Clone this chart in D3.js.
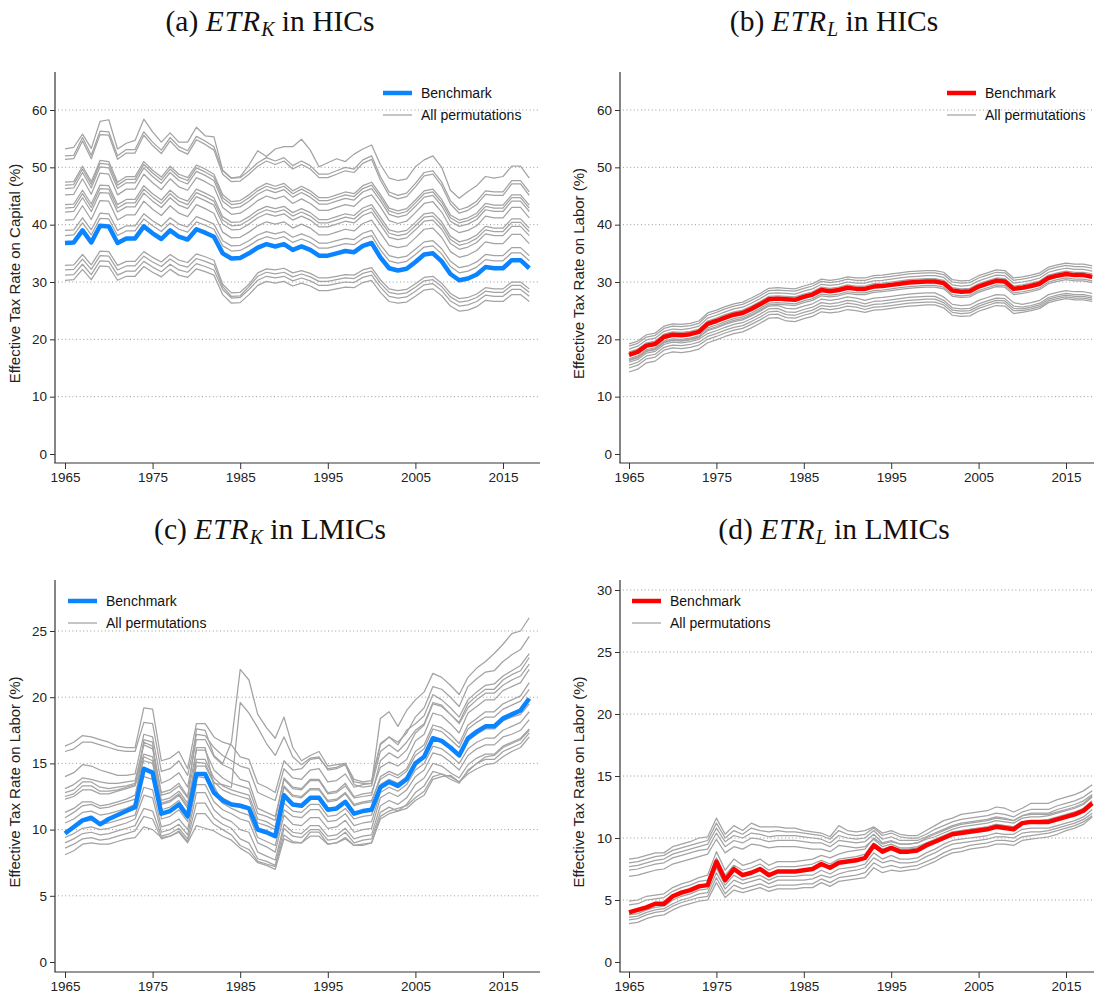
<!DOCTYPE html>
<html>
<head>
<meta charset="utf-8">
<script src="https://cdn.jsdelivr.net/npm/d3@7"></script>
<style>
  body { margin: 0; background: #fff; }
  svg { display: block; }
</style>
</head>
<body>
<svg id="chart" width="1094" height="998"></svg>
<script>
// Years covered by every series
const years = d3.range(1965, 2019);

// Tick values
const xTicks = [1965, 1975, 1985, 1995, 2005, 2015];
const yTicksHic = [0, 10, 20, 30, 40, 50, 60];
const yTicksLmicCapital = [0, 5, 10, 15, 20, 25];
const yTicksLmicLabor = [0, 5, 10, 15, 20, 25, 30];

// (a) Effective tax rate on capital, high-income countries
const benchHicCapital = [36.8,36.9,39.0,36.9,39.8,39.7,36.8,37.6,37.6, 39.7,38.5,37.5,39.0,37.9,37.4,39.2,38.6,37.9, 35.0,34.1,34.2,35.0,36.0,36.6,36.2,36.6,35.6, 36.2,35.6,34.6,34.6,35.0,35.4,35.2,36.3,36.8, 34.3,32.4,32.0,32.3,33.5,34.8,35.0,33.6,31.4, 30.3,30.6,31.3,32.6,32.4,32.4,33.8,33.8,32.4];
const permHicCapital = [
  [53.2,53.5,55.8,53.3,58.0,58.3,53.2,54.2,54.7, 58.4,56.2,54.4,56.0,54.4,54.4,57.0,55.5,55.3, 49.5,48.1,48.4,50.4,52.9,51.9,53.2,53.6,53.6, 54.9,53.0,50.1,50.8,51.5,51.0,52.3,53.2,53.9, 50.5,48.1,47.7,48.0,50.1,51.3,52.0,50.0,46.0, 44.6,45.8,46.8,48.4,48.1,48.4,50.2,50.2,48.1],
  [52.0,52.1,55.2,52.1,56.3,56.2,52.0,53.1,53.1, 56.2,54.4,53.0,55.2,53.6,52.9,55.4,54.6,53.6, 49.4,48.1,48.2,49.4,50.8,51.7,51.1,51.7,50.3, 51.1,50.3,48.8,48.8,49.4,50.0,49.7,51.3,52.0, 48.4,45.7,45.1,45.5,47.2,49.1,49.4,47.4,44.2, 42.6,43.1,44.1,45.9,45.7,45.7,47.7,47.7,45.7],
  [51.4,51.5,54.6,51.5,55.7,55.6,51.4,52.5,52.5, 55.6,53.8,52.4,54.6,53.0,52.3,54.8,54.0,53.0, 48.8,47.5,47.6,48.8,50.2,51.1,50.5,51.1,49.7, 50.5,49.7,48.2,48.2,48.8,49.4,49.1,50.7,51.4, 47.8,45.1,44.5,44.9,46.6,48.5,48.8,46.8,43.6, 42.0,42.5,43.5,45.3,45.1,45.1,47.1,47.1,45.1],
  [47.4,47.5,50.2,47.5,51.2,51.0,47.4,48.4,48.4, 51.0,49.5,48.3,50.2,48.8,48.2,50.4,49.7,48.8, 45.2,44.0,44.2,45.2,46.4,47.2,46.7,47.2,45.9, 46.7,45.9,44.7,44.7,45.2,45.7,45.4,46.8,47.4, 45.3,42.9,42.4,42.8,44.3,45.9,46.2,44.4,41.7, 40.8,41.2,42.0,43.7,43.4,43.4,45.2,45.2,43.4],
  [46.9,47.0,49.7,47.0,50.7,50.5,46.9,47.9,47.9, 50.5,49.0,47.8,49.7,48.3,47.7,49.9,49.2,48.3, 44.7,43.5,43.7,44.7,45.9,46.7,46.2,46.7,45.4, 46.2,45.4,44.2,44.2,44.7,45.2,44.9,46.3,46.9, 44.8,42.4,41.9,42.3,43.8,45.4,45.7,43.9,41.2, 40.3,40.7,41.5,43.2,42.9,42.9,44.7,44.7,42.9],
  [46.3,46.4,49.1,46.4,50.1,49.9,46.3,47.3,47.3, 49.9,48.4,47.2,49.1,47.7,47.1,49.3,48.6,47.7, 44.1,42.9,43.1,44.1,45.3,46.1,45.6,46.1,44.8, 45.6,44.8,43.6,43.6,44.1,44.6,44.3,45.7,46.3, 44.2,41.8,41.3,41.7,43.2,44.8,45.1,43.3,40.6, 39.7,40.1,40.9,42.6,42.3,42.3,44.1,44.1,42.3],
  [45.2,45.3,48.0,45.3,49.0,48.8,45.2,46.2,46.2, 48.8,47.3,46.1,48.0,46.6,46.0,48.2,47.5,46.6, 43.0,41.8,42.0,43.0,44.2,45.0,44.5,45.0,43.7, 44.5,43.7,42.5,42.5,43.0,43.5,43.2,44.6,45.2, 43.1,40.7,40.2,40.6,42.1,43.7,44.0,42.2,39.5, 38.6,39.0,39.8,41.5,41.2,41.2,43.0,43.0,41.2],
  [43.5,43.6,46.0,43.6,46.9,46.8,43.5,44.4,44.4, 46.8,45.4,44.3,46.0,44.7,44.1,46.2,45.5,44.7, 41.4,40.4,40.5,41.4,42.5,43.2,42.8,43.2,42.1, 42.8,42.1,40.9,40.9,41.4,41.9,41.6,42.9,43.5, 41.3,39.1,38.7,39.0,40.4,41.9,42.1,40.5,38.0, 37.0,37.4,38.2,39.7,39.4,39.4,41.0,41.0,39.4],
  [42.9,43.0,45.4,43.0,46.3,46.2,42.9,43.8,43.8, 46.2,44.8,43.7,45.4,44.1,43.5,45.6,44.9,44.1, 40.8,39.8,39.9,40.8,41.9,42.6,42.2,42.6,41.5, 42.2,41.5,40.3,40.3,40.8,41.3,41.0,42.3,42.9, 40.7,38.5,38.1,38.4,39.8,41.3,41.5,39.9,37.4, 36.4,36.8,37.6,39.1,38.8,38.8,40.4,40.4,38.8],
  [42.2,42.3,44.7,42.3,45.6,45.5,42.2,43.1,43.1, 45.5,44.1,43.0,44.7,43.4,42.8,44.9,44.2,43.4, 40.1,39.1,39.2,40.1,41.2,41.9,41.5,41.9,40.8, 41.5,40.8,39.6,39.6,40.1,40.6,40.3,41.6,42.2, 40.0,37.8,37.4,37.7,39.1,40.6,40.8,39.2,36.7, 35.7,36.1,36.9,38.4,38.1,38.1,39.7,39.7,38.1],
  [40.8,40.9,43.3,40.9,44.2,44.1,40.8,41.7,41.7, 44.1,42.7,41.6,43.3,42.0,41.4,43.5,42.8,42.0, 38.7,37.7,37.8,38.7,39.8,40.5,40.1,40.5,39.4, 40.1,39.4,38.2,38.2,38.7,39.2,38.9,40.2,40.8, 38.6,36.4,36.0,36.3,37.7,39.2,39.4,37.8,35.3, 34.3,34.7,35.5,37.0,36.7,36.7,38.3,38.3,36.7],
  [39.0,39.1,41.2,39.1,42.0,41.9,39.0,39.8,39.8, 41.9,40.7,39.7,41.2,40.1,39.6,41.4,40.8,40.1, 37.2,36.3,36.4,37.2,38.2,38.8,38.4,38.8,37.8, 38.4,37.8,36.8,36.8,37.2,37.6,37.4,38.5,39.0, 36.5,34.6,34.2,34.5,35.7,37.0,37.2,35.8,33.6, 32.5,32.8,33.5,34.8,34.6,34.6,36.0,36.0,34.6],
  [38.1,38.2,40.3,38.2,41.1,41.0,38.1,38.9,38.9, 41.0,39.8,38.8,40.3,39.2,38.7,40.5,39.9,39.2, 36.3,35.4,35.5,36.3,37.3,37.9,37.5,37.9,36.9, 37.5,36.9,35.9,35.9,36.3,36.7,36.5,37.6,38.1, 35.6,33.7,33.3,33.6,34.8,36.1,36.3,34.9,32.7, 31.6,31.9,32.6,33.9,33.7,33.7,35.1,35.1,33.7],
  [32.9,33.0,34.8,33.0,35.4,35.3,32.9,33.6,33.6, 35.3,34.3,33.5,34.8,33.8,33.4,34.9,34.4,33.8, 29.6,28.1,28.2,29.6,31.6,32.3,32.1,32.4,31.6, 32.0,31.5,30.7,30.7,31.0,31.3,31.2,32.1,32.5, 30.4,28.8,28.5,28.7,29.7,30.8,31.0,29.8,28.0, 27.1,27.3,27.9,29.0,28.8,28.8,30.0,30.0,28.8],
  [32.1,32.2,34.0,32.2,34.6,34.5,32.1,32.8,32.8, 34.5,33.5,32.7,34.0,33.0,32.6,34.1,33.6,33.0, 29.2,27.5,27.6,29.2,31.0,31.7,31.4,31.7,30.9, 31.4,30.9,30.1,30.1,30.4,30.7,30.6,31.5,31.9, 29.8,28.2,27.9,28.1,29.1,30.2,30.4,29.2,27.4, 26.5,26.7,27.3,28.4,28.2,28.2,29.4,29.4,28.2],
  [31.2,31.3,33.1,31.3,33.7,33.6,31.2,31.9,31.9, 33.6,32.6,31.8,33.1,32.1,31.7,33.2,32.7,32.1, 28.7,27.2,27.3,28.7,30.3,31.0,30.7,31.0,30.2, 30.7,30.2,29.4,29.4,29.7,30.0,29.9,30.8,31.2, 29.1,27.5,27.2,27.4,28.4,29.5,29.7,28.5,26.7, 25.8,26.0,26.6,27.7,27.5,27.5,28.7,28.7,27.5],
  [30.3,30.4,32.2,30.4,32.8,32.7,30.3,31.0,31.0, 32.7,31.7,30.9,32.2,31.2,30.8,32.3,31.8,31.2, 27.8,26.3,26.4,27.8,29.4,30.1,29.8,30.1,29.3, 29.8,29.3,28.5,28.5,28.8,29.1,29.0,29.9,30.3, 28.2,26.6,26.3,26.5,27.5,28.6,28.8,27.6,25.8, 24.9,25.1,25.7,26.8,26.6,26.6,27.8,27.8,26.6]
];

// (b) Effective tax rate on labor, high-income countries
const benchHicLabor = [17.3,17.8,18.9,19.2,20.4,20.8,20.7,20.9,21.3, 22.7,23.2,23.8,24.3,24.6,25.3,26.1,27.0,27.1, 27.0,26.9,27.4,27.8,28.6,28.4,28.6,29.0,28.8, 28.8,29.2,29.3,29.5,29.7,29.9,30.0,30.1,30.1, 29.8,28.5,28.3,28.4,29.2,29.7,30.2,30.1,28.8, 29.0,29.3,29.7,30.7,31.1,31.4,31.2,31.2,30.9];
const permHicLabor = [
  [19.2,19.7,20.8,21.1,22.3,22.7,22.6,22.8,23.2, 24.6,25.1,25.7,26.2,26.5,27.2,28.0,28.9,29.0, 28.9,28.8,29.3,29.7,30.5,30.3,30.5,30.9,30.7, 30.7,31.1,31.2,31.4,31.6,31.8,31.9,32.0,32.0, 31.7,30.4,30.2,30.3,31.1,31.6,32.1,32.0,30.7, 30.9,31.2,31.6,32.6,33.0,33.3,33.1,33.1,32.8],
  [18.8,19.3,20.4,20.7,21.9,22.3,22.2,22.4,22.8, 24.2,24.7,25.3,25.8,26.1,26.8,27.6,28.5,28.6, 28.5,28.4,28.9,29.3,30.1,29.9,30.1,30.5,30.3, 30.3,30.7,30.8,31.0,31.2,31.4,31.5,31.6,31.6, 31.3,30.0,29.8,29.9,30.7,31.2,31.7,31.6,30.3, 30.5,30.8,31.2,32.2,32.6,32.9,32.7,32.7,32.4],
  [18.3,18.8,19.9,20.2,21.4,21.8,21.7,21.9,22.3, 23.7,24.2,24.8,25.3,25.6,26.3,27.1,28.0,28.1, 28.0,27.9,28.4,28.8,29.6,29.4,29.6,30.0,29.8, 29.8,30.2,30.3,30.5,30.7,30.9,31.0,31.1,31.1, 30.8,29.5,29.3,29.4,30.2,30.7,31.2,31.1,29.8, 30.0,30.3,30.7,31.7,32.1,32.4,32.2,32.2,31.9],
  [17.8,18.3,19.4,19.7,20.9,21.3,21.2,21.4,21.8, 23.2,23.7,24.3,24.8,25.1,25.8,26.6,27.5,27.6, 27.5,27.4,27.9,28.3,29.1,28.9,29.1,29.5,29.3, 29.3,29.7,29.8,30.0,30.2,30.4,30.5,30.6,30.6, 30.3,29.0,28.8,28.9,29.7,30.2,30.7,30.6,29.3, 29.5,29.8,30.2,31.2,31.6,31.9,31.7,31.7,31.4],
  [16.6,17.1,18.2,18.5,19.7,20.1,20.0,20.2,20.6, 22.0,22.5,23.1,23.6,23.9,24.6,25.4,26.3,26.4, 26.3,26.2,26.7,27.1,27.9,27.7,27.9,28.3,28.1, 28.1,28.5,28.6,28.8,29.0,29.2,29.3,29.4,29.4, 29.1,27.8,27.6,27.7,28.5,29.0,29.5,29.4,28.1, 28.3,28.6,29.0,30.0,30.4,30.7,30.5,30.5,30.2],
  [16.3,16.8,17.9,18.2,19.4,19.8,19.7,19.9,20.3, 21.7,22.2,22.8,23.3,23.6,24.3,25.1,26.0,26.1, 26.0,25.9,26.4,26.8,27.6,27.4,27.6,28.0,27.8, 27.8,28.2,28.3,28.5,28.7,28.9,29.0,29.1,29.1, 28.8,27.5,27.3,27.4,28.2,28.7,29.2,29.1,27.8, 28.0,28.3,28.7,29.7,30.1,30.4,30.2,30.2,29.9],
  [16.4,16.9,18.0,18.3,19.5,19.9,19.8,20.0,20.4, 21.5,22.0,22.6,23.1,23.4,24.1,24.9,25.8,25.9, 25.4,25.3,25.8,26.2,27.0,26.8,27.0,27.4,27.2, 26.8,27.2,27.3,27.5,27.7,27.9,28.0,28.1,28.1, 27.4,26.1,25.9,26.0,26.8,27.3,27.8,27.7,26.4, 26.1,26.4,26.8,27.8,28.2,28.5,28.3,28.3,28.0],
  [16.0,16.5,17.6,17.9,19.1,19.5,19.4,19.6,20.0, 21.0,21.5,22.1,22.6,22.9,23.6,24.4,25.3,25.4, 24.8,24.7,25.2,25.6,26.4,26.2,26.4,26.8,26.6, 26.2,26.6,26.7,26.9,27.1,27.3,27.4,27.5,27.5, 26.8,25.5,25.3,25.4,26.2,26.7,27.2,27.1,25.8, 25.6,25.9,26.3,27.3,27.7,28.0,27.8,27.8,27.5],
  [15.5,16.0,17.1,17.4,18.6,19.0,18.9,19.1,19.5, 20.5,21.0,21.6,22.1,22.4,23.1,23.9,24.8,24.9, 24.3,24.2,24.7,25.1,25.9,25.7,25.9,26.3,26.1, 25.7,26.1,26.2,26.4,26.6,26.8,26.9,27.0,27.0, 26.4,25.1,24.9,25.0,25.8,26.3,26.8,26.7,25.4, 25.3,25.6,26.0,27.0,27.4,27.7,27.5,27.5,27.2],
  [15.0,15.5,16.6,16.9,18.1,18.5,18.4,18.6,19.0, 20.0,20.5,21.1,21.6,21.9,22.6,23.4,24.3,24.4, 23.8,23.7,24.2,24.6,25.4,25.2,25.4,25.8,25.6, 25.2,25.6,25.7,25.9,26.1,26.3,26.4,26.5,26.5, 26.0,24.7,24.5,24.6,25.4,25.9,26.4,26.3,25.0, 25.0,25.3,25.7,26.7,27.1,27.4,27.2,27.2,26.9],
  [14.3,14.8,15.9,16.2,17.4,17.8,17.7,17.9,18.3, 19.4,19.9,20.5,21.0,21.3,22.0,22.8,23.7,23.8, 23.2,23.1,23.6,24.0,24.8,24.6,24.8,25.2,25.0, 24.7,25.1,25.2,25.4,25.6,25.8,25.9,26.0,26.0, 25.5,24.2,24.0,24.1,24.9,25.4,25.9,25.8,24.5, 24.7,25.0,25.4,26.4,26.8,27.1,26.9,26.9,26.6]
];

// (c) Effective tax rate on capital, low- and middle-income countries
const benchLmicCapital = [9.7,10.2,10.7,10.9,10.4,10.8,11.1,11.4,11.7,14.6, 14.3,11.2,11.4,11.9,11.0,14.2,14.2,12.8,12.2,11.9, 11.8,11.6,10.0,9.8,9.5,12.6,11.9,11.8,12.4,12.4, 11.5,11.6,12.1,11.2,11.4,11.5,13.2,13.6,13.3,13.8, 15.0,15.5,16.9,16.7,16.2,15.6,16.9,17.4,17.8,17.8, 18.4,18.7,19.0,19.9];
const permLmicCapital = [
  [16.3,16.6,17.1,17.0,16.8,16.6,16.3,16.2,16.2, 19.2,19.1, 15.2,15.4,15.9,14.6, 18.0,18.0,17.0, 16.6,16.4,15.5,15.3,13.5,13.2,12.8, 15.2,14.5,14.6,15.3,15.4,14.6,14.7,15.0,13.8,13.6,13.7, 16.5,17.0,16.6,17.3,18.5,19.2,20.8,20.6,20.0,19.3, 20.8,21.4,21.9,22.0,22.7,23.2,23.6,24.6],
  [15.9,16.1,16.6,16.6,16.4,16.2,16.0,15.9,15.9, 18.1,18.0, 14.4,14.6,15.2,14.1, 17.2,17.1,16.2, 15.6,15.2,14.8,14.6,12.8,12.5,12.2, 14.6,13.9,13.8,14.5,14.6,13.6,13.7,14.2,13.2,13.4,13.5, 18.4,18.9,17.8,19.0,19.8,20.4,21.8,21.5,20.9,20.2, 21.5,22.2,22.7,23.3,24.0,24.8,25.0,26.0],
  [14.0,14.3,14.9,14.8,14.5,14.3,14.1,14.1,14.2, 17.2,17.0, 13.5,13.8,14.3,13.2, 16.8,16.8,15.5, 14.9,14.6,13.8,13.6,11.6,11.3,11.0, 13.8,13.1,13.0,13.7,13.7,12.7,12.8,13.3,12.4,12.5,12.6, 15.2,15.8,15.4,16.0,17.3,17.9,19.5,19.3,18.7,18.1, 19.5,20.1,20.6,20.6,21.3,21.7,22.0,23.0],
  [13.1,13.4,13.9,13.8,13.6,13.5,13.5,13.6,13.7, 16.4,16.1, 12.8,13.0,13.5,12.5, 16.0,16.0,14.5, 13.9,13.5,13.3,13.1,11.2,11.0,10.7, 13.9,13.2,13.1,13.8,13.8,12.8,12.9,13.5,12.5,12.7,12.8, 14.7,15.1,14.8,15.3,16.7,17.2,18.8,18.6,18.0,17.3, 18.8,19.3,19.8,19.8,20.5,20.8,21.1,22.1],
  [12.8,13.0,13.6,13.6,13.2,13.1,13.2,13.3,13.5, 15.7,15.5, 12.2,12.4,12.9,12.0, 15.3,15.3,13.9, 13.3,13.0,12.8,12.6,10.8,10.6,10.2, 13.2,12.5,12.4,13.0,13.0,12.1,12.2,12.7,11.8,12.0,12.1, 14.0,14.4,14.1,14.6,15.9,16.4,17.9,17.7,17.2,16.5, 17.9,18.4,18.9,18.9,19.5,19.8,20.1,21.1],
  [12.5,12.7,13.3,13.3,12.9,12.9,13.0,13.2,13.4, 16.6,16.3, 12.6,12.8,13.3,12.4, 17.6,17.5,15.6, 15.0,16.6,22.1,21.3,18.7,17.7,16.9, 18.5,16.2,15.2,15.6,15.9,14.8,14.9,15.0,13.6,13.5,13.5, 16.4,17.0,16.4,17.5,18.0,18.6,20.2,19.8,19.2,18.5, 19.8,20.4,20.9,21.0,21.6,22.0,22.4,23.3],
  [12.3,12.5,13.0,13.0,12.7,12.7,12.9,13.1,13.3, 15.2,15.0, 12.0,12.2,12.7,11.8, 14.8,14.8,13.5, 13.4,13.2,19.6,18.8,17.7,16.5,15.6, 17.0,15.5,14.9,15.4,15.5,14.5,14.6,14.9,13.4,13.2,13.3, 15.9,16.4,15.9,16.6,17.5,18.0,19.6,19.4,18.7,18.0, 19.2,19.8,20.3,20.3,20.9,21.3,21.6,22.5],
  [11.3,11.6,12.1,12.1,11.8,11.9,12.1,12.3,12.6, 15.5,15.2, 11.9,12.1,12.6,11.6, 15.1,15.0,13.6, 13.0,12.7,12.5,12.3,10.5,10.3,10.0, 13.3,12.6,12.5,13.1,13.1,12.2,12.3,12.8,11.9,12.1,12.2, 13.8,14.2,13.9,14.4,15.6,16.1,17.6,17.4,16.8,16.2, 17.6,18.1,18.5,18.5,19.1,19.4,19.7,20.6],
  [10.9,11.3,11.8,11.9,11.6,11.7,11.9,12.1,12.3, 14.0,13.8, 11.5,11.7,12.2,11.2, 14.0,13.9,12.8, 12.4,12.0,11.9,11.7,10.0,9.7,9.4, 12.0,11.4,11.3,11.9,11.9,11.0,11.1,11.6,10.8,11.0,11.1, 13.4,13.8,13.5,14.0,15.1,15.6,16.8,16.6,16.1,15.5, 16.7,17.2,17.6,17.6,18.2,18.5,18.7,19.5],
  [10.5,10.8,11.3,11.4,11.1,11.2,11.4,11.6,11.9, 16.8,16.6, 10.8,11.0,11.5,10.6, 16.2,16.2,13.3, 12.0,11.6,11.3,11.1,9.4,9.1,8.8, 11.5,11.0,10.9,11.5,11.5,10.6,10.7,11.2,10.3,10.5,10.6, 12.8,13.2,12.9,13.4,14.5,15.0,16.3,16.1,15.6,15.0, 16.1,16.6,16.9,16.9,17.5,17.8,18.1,18.9],
  [9.9,10.2,10.6,10.7,10.4,10.5,10.7,10.9,11.1, 13.2,13.0, 10.2,10.4,10.8,10.0, 13.4,13.4,12.1, 11.5,11.2,10.8,10.6,9.0,8.7,8.3, 11.1,10.4,10.3,10.9,10.9,10.1,10.2,10.7,9.8,10.0,10.1, 12.4,12.8,12.5,13.0,14.0,14.5,15.8,15.6,15.1,14.5, 15.6,16.1,16.4,16.4,17.0,17.2,17.5,18.3],
  [9.4,9.7,10.1,10.2,10.0,10.1,10.3,10.5,10.8, 12.6,12.4, 9.8,10.0,10.4,9.6, 12.8,12.8,11.5, 10.9,10.6,10.0,9.8,8.3,8.0,7.7, 10.4,9.8,9.7,10.3,10.3,9.5,9.6,10.1,9.3,9.5,9.6, 11.8,12.2,11.9,12.4,13.4,13.9,15.0,14.8,14.3,13.9, 14.9,15.4,15.7,15.7,16.3,16.6,16.9,17.6],
  [9.0,9.3,9.7,9.8,9.6,9.7,9.9,10.1,10.3, 11.6,11.4, 9.5,9.7,10.1,9.3, 12.0,12.0,10.9, 10.4,10.1,9.3,9.0,7.8,7.6,7.3, 10.1,9.5,9.4,10.0,10.0,9.2,9.3,9.8,9.0,9.2,9.3, 11.3,11.7,11.4,11.9,12.8,13.3,14.4,14.2,13.8,13.5, 14.5,15.0,15.3,15.3,15.9,16.2,16.5,17.3],
  [8.6,8.9,9.3,9.4,9.2,9.3,9.5,9.7,9.9, 11.0,10.8, 9.3,9.5,9.9,9.1, 11.2,11.2,10.4, 10.0,9.6,8.8,8.5,7.6,7.4,7.2, 9.6,9.1,9.0,9.5,9.5,8.9,9.0,9.4,8.8,8.9,9.0, 11.0,11.4,11.6,11.8,12.4,12.9,14.0,14.2,14.0,13.6, 14.4,15.0,15.5,15.6,16.2,16.5,16.8,17.5],
  [8.1,8.4,8.9,9.0,8.9,8.9,9.1,9.3,9.4, 10.2,10.0, 9.4,9.5,9.8,9.0, 10.3,10.1,9.9, 9.5,9.2,8.6,8.2,7.5,7.3,7.0, 9.3,9.0,9.0,9.8,9.8,8.9,9.0,9.3,8.8,8.8,9.0, 10.8,11.2,11.4,11.6,12.2,12.6,13.8,14.0,14.1,13.6, 14.2,14.6,14.9,15.0,15.5,15.9,16.2,17.0]
];

// (d) Effective tax rate on labor, low- and middle-income countries
const benchLmicLabor = [4.0,4.2,4.4,4.7,4.7,5.3,5.6,5.8,6.1,6.2, 8.1,6.6,7.5,7.0,7.2,7.5,7.0,7.3,7.3,7.3, 7.4,7.5,7.9,7.6,8.0,8.1,8.2,8.4,9.4,8.9, 9.2,8.9,8.9,9.0,9.4,9.7,10.0,10.3,10.4,10.5, 10.6,10.7,10.9,10.8,10.7,11.2,11.3,11.3,11.3,11.5, 11.7,11.9,12.2,12.8];
const permLmicLabor = [
  [8.3,8.4,8.6,8.8,8.8,9.3,9.5,9.7,10.0,10.1, 11.6, 10.3,11.0,10.6,11.2,10.9,10.9,10.9,10.8,10.8,10.6,10.5,10.4,10.1,11.0, 10.6,10.5,10.6,10.9,10.4,10.6,10.3,10.2,10.2,10.6,11.0, 11.4,11.6,11.9,12.0,12.1,12.2,12.5,12.4,12.1,12.4,12.8,12.8,12.8,13.1,13.3,13.5,13.8,14.3],
  [8.0,8.1,8.3,8.5,8.6,9.0,9.2,9.4,9.6,9.8, 11.2, 10.0,10.6,10.3,10.8,10.6,10.5,10.6,10.5,10.5,10.4,10.3,10.2,9.9,10.6, 10.3,10.2,10.3,10.8,10.2,10.4,10.1,10.0,10.0,10.3,10.7, 11.0,11.3,11.5,11.6,11.7,11.8,12.0,11.9,11.7,12.1,12.3,12.3,12.3,12.6,12.8,13.0,13.3,13.8],
  [7.7,7.8,8.0,8.2,8.3,8.7,8.9,9.1,9.3,9.5, 10.8, 9.7,10.2,10.0,10.4,10.3,10.1,10.2,10.2,10.2,10.1,10.0,9.9,9.6,10.2, 10.0,9.9,10.0,10.6,9.9,10.1,9.8,9.8,9.8,10.1,10.4, 10.7,11.0,11.2,11.3,11.4,11.5,11.7,11.6,11.4,11.8,12.0,12.0,12.0,12.3,12.5,12.7,13.0,13.5],
  [7.4,7.5,7.7,7.9,8.0,8.4,8.6,8.8,9.0,9.1, 10.4, 9.3,9.8,9.6,10.0,9.9,9.7,9.8,9.8,9.8,9.7,9.6,9.6,9.3,9.8, 9.7,9.6,9.7,10.3,9.6,9.8,9.5,9.5,9.6,9.9,10.1, 10.4,10.7,10.9,11.0,11.1,11.2,11.4,11.3,11.2,11.6,11.7,11.7,11.8,12.0,12.2,12.4,12.7,13.3],
  [6.9,7.0,7.2,7.4,7.5,7.9,8.1,8.3,8.5,8.7, 9.9, 8.8,9.3,9.1,9.5,9.4,9.2,9.3,9.3,9.3,9.2,9.1,9.1,8.9,9.4, 9.3,9.2,9.3,9.9,9.3,9.5,9.2,9.2,9.3,9.6,9.8, 10.1,10.4,10.6,10.7,10.8,10.9,11.1,11.0,10.9,11.3,11.4,11.4,11.5,11.7,11.9,12.1,12.4,13.0],
  [4.9,5.0,5.3,5.4,5.5,6.0,6.3,6.5,6.8,7.0, 8.9, 7.4,8.3,7.8,8.0,8.3,7.8,8.1,8.1,8.1, 8.2,8.3,8.6,8.4,8.7, 8.9,9.0,9.1,10.0,9.5,9.7,9.5,9.5,9.6,10.0,10.3, 10.6,10.9,11.1,11.2,11.3,11.4,11.6,11.5,11.4,11.8,11.9,11.9,11.9,12.1,12.3,12.5,12.8,13.4],
  [4.6,4.7,5.0,5.1,5.2,5.7,6.0,6.2,6.5,6.6, 8.4, 7.0,7.8,7.4,7.6,7.9,7.4,7.7,7.7,7.7, 7.8,7.9,8.2,7.9,8.3, 8.4,8.5,8.7,9.6,9.1,9.3,9.1,9.1,9.2,9.6,9.9, 10.2,10.5,10.6,10.7,10.8,10.9,11.1,11.0,10.9,11.3,11.4,11.4,11.4,11.6,11.8,12.0,12.3,12.9],
  [3.8,3.9,4.2,4.4,4.5,5.0,5.3,5.5,5.8,5.9, 7.6, 6.2,7.0,6.6,6.8,7.0,6.6,6.9,6.9,6.9, 7.0,7.0,7.4,7.1,7.5, 7.6,7.7,7.9,8.8,8.3,8.6,8.3,8.3,8.4,8.8,9.1, 9.5,9.8,9.9,10.0,10.1,10.2,10.4,10.3,10.3,10.7,10.8,10.8,10.8,11.0,11.2,11.4,11.7,12.3],
  [3.6,3.7,4.0,4.2,4.3,4.7,5.0,5.2,5.5,5.6, 7.2, 5.9,6.6,6.3,6.5,6.7,6.3,6.6,6.6,6.6, 6.6,6.7,7.0,6.8,7.1, 7.3,7.4,7.6,8.4,8.0,8.2,8.0,8.0,8.1,8.5,8.8, 9.2,9.5,9.6,9.7,9.8,9.9,10.1,10.1,10.0,10.4,10.5,10.5,10.6,10.8,11.0,11.2,11.5,12.0],
  [3.4,3.5,3.8,4.0,4.1,4.5,4.8,5.0,5.2,5.3, 6.8, 5.5,6.2,5.9,6.1,6.3,6.0,6.2,6.2,6.2, 6.3,6.3,6.7,6.4,6.8, 6.9,7.0,7.2,8.0,7.6,7.8,7.6,7.7,7.8,8.1,8.4, 8.8,9.1,9.2,9.4,9.5,9.6,9.8,9.8,9.7,10.1,10.2,10.3,10.4,10.6,10.8,11.0,11.3,11.8],
  [3.1,3.2,3.5,3.7,3.8,4.2,4.5,4.7,4.9,5.0, 6.4, 5.2,5.8,5.6,5.8,6.0,5.7,5.9,5.9,5.9, 6.0,6.0,6.4,6.1,6.5, 6.6,6.7,6.8,7.6,7.2,7.4,7.3,7.4,7.5,7.8,8.1, 8.5,8.8,8.9,9.1,9.2,9.3,9.5,9.5,9.4,9.8,9.9,10.0,10.1,10.3,10.6,10.8,11.1,11.7]
];

// Legend entries
const legendLabels = ["Benchmark", "All permutations"];

// Layout of the four panels
const panels = [
  { tag: "(a) ", sub: "K", group: " in HICs", titleX: 270, titleY: 31,
    bench: benchHicCapital, perms: permHicCapital, color: "#0a84ff",
    yTicks: yTicksHic, yLabel: "Effective Tax Rate on Capital (%)",
    axisX: 55, axisTop: 72, axisBottom: 463, plotRight: 540,
    x1965: 65, x2015: 503, yZero: 454, yTopTick: 110,
    labelX: 20, legendX: 383, legendY: 93 },
  { tag: "(b) ", sub: "L", group: " in HICs", titleX: 834, titleY: 31,
    bench: benchHicLabor, perms: permHicLabor, color: "#ff0000",
    yTicks: yTicksHic, yLabel: "Effective Tax Rate on Labor (%)",
    axisX: 620, axisTop: 72, axisBottom: 463, plotRight: 1094,
    x1965: 629, x2015: 1066, yZero: 454, yTopTick: 110,
    labelX: 584, legendX: 947, legendY: 93 },
  { tag: "(c) ", sub: "K", group: " in LMICs", titleX: 270, titleY: 539,
    bench: benchLmicCapital, perms: permLmicCapital, color: "#0a84ff",
    yTicks: yTicksLmicCapital, yLabel: "Effective Tax Rate on Labor (%)",
    axisX: 55, axisTop: 580, axisBottom: 972, plotRight: 540,
    x1965: 65, x2015: 503, yZero: 962, yTopTick: 631,
    labelX: 20, legendX: 68, legendY: 601 },
  { tag: "(d) ", sub: "L", group: " in LMICs", titleX: 834, titleY: 539,
    bench: benchLmicLabor, perms: permLmicLabor, color: "#ff0000",
    yTicks: yTicksLmicLabor, yLabel: "Effective Tax Rate on Labor (%)",
    axisX: 620, axisTop: 580, axisBottom: 972, plotRight: 1094,
    x1965: 629, x2015: 1066, yZero: 962, yTopTick: 590,
    labelX: 584, legendX: 632, legendY: 601 }
];

const svg = d3.select("#chart");
const sans = "'Liberation Sans', Arial, Helvetica, sans-serif";
const serif = "'Liberation Serif', 'DejaVu Serif', serif";
const axisColor = "#333";
const gridColor = "#9a9a9a";
const permColor = "#a3a3a3";

panels.forEach(p => {
  const g = svg.append("g");
  const x = d3.scaleLinear().domain([1965, 2015]).range([p.x1965, p.x2015]);
  const yMax = p.yTicks[p.yTicks.length - 1];
  const y = d3.scaleLinear().domain([0, yMax]).range([p.yZero, p.yTopTick]);

  // Title with the math-style ETR symbol
  const title = g.append("text")
    .attr("x", p.titleX).attr("y", p.titleY)
    .attr("text-anchor", "middle")
    .attr("font-family", serif).attr("font-size", 29.5).attr("fill", "#111");
  title.append("tspan").text(p.tag);
  title.append("tspan").attr("font-style", "italic").attr("letter-spacing", 1).text("ETR");
  title.append("tspan").attr("font-style", "italic").attr("font-size", 20).attr("dy", 5).text(p.sub);
  title.append("tspan").attr("dy", -5).text(p.group);

  // Dotted horizontal grid lines
  g.append("g").selectAll("line")
    .data(p.yTicks.filter(t => t > 0))
    .join("line")
    .attr("x1", p.axisX + 3).attr("x2", p.plotRight)
    .attr("y1", d => y(d)).attr("y2", d => y(d))
    .attr("stroke", gridColor).attr("stroke-width", 1)
    .attr("stroke-dasharray", "1 2.6");

  // Axes
  const yAxis = d3.axisLeft(y).tickValues(p.yTicks).tickSize(5).tickPadding(3);
  const yg = g.append("g").attr("transform", `translate(${p.axisX},0)`).call(yAxis);
  yg.select(".domain").remove();
  yg.selectAll(".tick line").attr("stroke", axisColor);
  yg.selectAll(".tick text").attr("font-family", sans).attr("font-size", 13.5).attr("fill", "#222");

  const xAxis = d3.axisBottom(x).tickValues(xTicks).tickFormat(d3.format("d")).tickSize(6).tickPadding(3);
  const xg = g.append("g").attr("transform", `translate(0,${p.axisBottom})`).call(xAxis);
  xg.select(".domain").remove();
  xg.selectAll(".tick line").attr("stroke", axisColor);
  xg.selectAll(".tick text").attr("font-family", sans).attr("font-size", 13.5).attr("fill", "#222");

  g.append("line")
    .attr("x1", p.axisX).attr("x2", p.axisX)
    .attr("y1", p.axisTop).attr("y2", p.axisBottom)
    .attr("stroke", axisColor).attr("stroke-width", 1.2);
  g.append("line")
    .attr("x1", p.axisX - 0.6).attr("x2", p.plotRight)
    .attr("y1", p.axisBottom).attr("y2", p.axisBottom)
    .attr("stroke", axisColor).attr("stroke-width", 1.2);

  // Y-axis title
  g.append("text")
    .attr("transform", `translate(${p.labelX},${(p.axisTop + p.axisBottom) / 2 + 6}) rotate(-90)`)
    .attr("text-anchor", "middle")
    .attr("font-family", sans).attr("font-size", 15).attr("fill", "#222")
    .text(p.yLabel);

  const line = d3.line()
    .defined(d => d != null)
    .x((d, i) => x(years[i]))
    .y(d => y(d));

  // All permutations
  g.append("g").selectAll("path")
    .data(p.perms)
    .join("path")
    .attr("d", line)
    .attr("fill", "none")
    .attr("stroke", permColor)
    .attr("stroke-width", 1.25)
    .attr("stroke-linejoin", "round");

  // Benchmark series
  g.append("path")
    .datum(p.bench)
    .attr("d", line)
    .attr("fill", "none")
    .attr("stroke", p.color)
    .attr("stroke-width", 4.5)
    .attr("stroke-linejoin", "round");

  // Legend
  const lg = g.append("g").attr("transform", `translate(${p.legendX},${p.legendY})`);
  lg.append("line").attr("x1", 0).attr("x2", 29).attr("y1", 0).attr("y2", 0)
    .attr("stroke", p.color).attr("stroke-width", 4.5);
  lg.append("line").attr("x1", 0).attr("x2", 29).attr("y1", 22).attr("y2", 22)
    .attr("stroke", permColor).attr("stroke-width", 1.25);
  lg.selectAll("text")
    .data(legendLabels)
    .join("text")
    .attr("x", 38).attr("y", (d, i) => i * 22 + 5)
    .attr("font-family", sans).attr("font-size", 14).attr("fill", "#111")
    .text(d => d);
});
</script>
</body>
</html>
